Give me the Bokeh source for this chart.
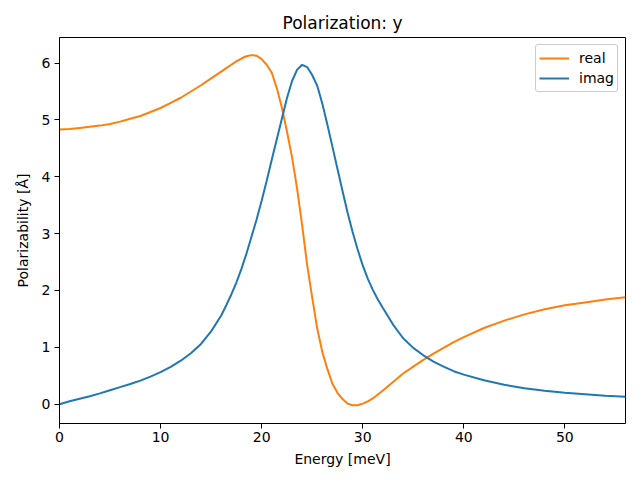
from bokeh.plotting import figure
from bokeh.models import Range1d, FixedTicker, Legend, LegendItem
from bokeh.embed import file_html
from bokeh.resources import INLINE

energy = [0, 1, 2, 3, 4, 5, 6, 7, 8, 9, 10, 11, 12, 13, 14, 15, 16, 16.5, 17,
          17.5, 18, 18.5, 19, 19.5, 20, 20.5, 21, 21.5, 22, 22.5, 23, 23.5, 24,
          24.5, 25, 25.5, 26, 26.5, 27, 27.5, 28, 28.5, 29, 29.5, 30, 30.5, 31,
          31.5, 32, 33, 34, 35, 36, 37, 38, 39, 40, 42, 44, 46, 48, 50, 52, 54, 56]
real = [4.83, 4.84, 4.86, 4.88, 4.90, 4.93, 4.97, 5.02, 5.07, 5.14, 5.21, 5.30,
        5.39, 5.50, 5.61, 5.73, 5.85, 5.91, 5.97, 6.03, 6.08, 6.12, 6.14, 6.13,
        6.07, 5.97, 5.83, 5.56, 5.22, 4.80, 4.35, 3.80, 3.16, 2.45, 1.88, 1.33,
        0.92, 0.62, 0.36, 0.20, 0.09, 0.01, -0.02, -0.02, 0.01, 0.05, 0.10, 0.17,
        0.24, 0.39, 0.54, 0.66, 0.78, 0.89, 0.99, 1.09, 1.18, 1.34, 1.47, 1.58,
        1.67, 1.74, 1.79, 1.84, 1.88]
imag = [0.00, 0.05, 0.095, 0.14, 0.19, 0.245, 0.30, 0.355, 0.415, 0.485, 0.565,
        0.655, 0.765, 0.895, 1.06, 1.28, 1.56, 1.74, 1.93, 2.14, 2.38, 2.65, 2.95,
        3.25, 3.58, 3.93, 4.30, 4.66, 5.02, 5.38, 5.68, 5.88, 5.97, 5.93, 5.79,
        5.60, 5.29, 4.92, 4.53, 4.14, 3.75, 3.37, 3.03, 2.72, 2.44, 2.21, 2.01,
        1.84, 1.69, 1.40, 1.16, 0.99, 0.86, 0.75, 0.66, 0.58, 0.52, 0.42, 0.34,
        0.28, 0.235, 0.20, 0.175, 0.15, 0.13]
x_ticks = [0, 10, 20, 30, 40, 50]
y_ticks = [0, 1, 2, 3, 4, 5, 6]

FONT = "DejaVu Sans"

p = figure(output_backend="svg", toolbar_location=None,
           frame_width=566, frame_height=386,
           min_border_left=59, min_border_right=15,
           min_border_top=37, min_border_bottom=57,
           x_range=Range1d(0, 56), y_range=Range1d(-0.34, 6.45),
           title="Polarization: y")

p.title.text_font = FONT
p.title.text_font_size = "17px"
p.title.text_font_style = "normal"
p.title.align = "center"
p.title.text_color = "black"

p.grid.visible = False
p.outline_line_color = "black"
p.outline_line_alpha = 1.0
p.outline_line_width = 1

for ax in (p.xaxis[0], p.yaxis[0]):
    ax.axis_line_color = "black"
    ax.major_tick_line_color = "black"
    ax.major_tick_out = 5
    ax.major_tick_in = 0
    ax.minor_tick_line_color = None
    ax.major_label_text_font = FONT
    ax.major_label_text_font_size = "14px"
    ax.major_label_text_color = "black"
    ax.axis_label_text_font = FONT
    ax.axis_label_text_font_size = "14px"
    ax.axis_label_text_font_style = "normal"
    ax.axis_label_text_color = "black"

p.xaxis.ticker = FixedTicker(ticks=x_ticks)
p.yaxis.ticker = FixedTicker(ticks=y_ticks)
p.xaxis.axis_label = "Energy [meV]"
p.yaxis.axis_label = "Polarizability [Å]"
p.xaxis.axis_label_standoff = 6
p.yaxis.axis_label_standoff = 8
p.xaxis.major_label_standoff = 3
p.yaxis.major_label_standoff = 4

r_real = p.line(energy, real, line_color="#ff7f0e", line_width=2)
r_imag = p.line(energy, imag, line_color="#1f77b4", line_width=2)

legend = Legend(items=[LegendItem(label="real", renderers=[r_real]),
                       LegendItem(label="imag", renderers=[r_imag])],
                location="top_right")
legend.label_text_font = FONT
legend.label_text_font_size = "14px"
legend.label_text_color = "black"
legend.border_line_color = "#cccccc"
legend.border_line_alpha = 1.0
legend.border_radius = 3
legend.background_fill_alpha = 0.8
legend.margin = 7
legend.padding = 3
legend.spacing = 0
legend.label_height = 20
legend.glyph_height = 20
legend.glyph_width = 30
legend.label_standoff = 10
p.add_layout(legend)

open("out.html", "w").write(file_html(p, INLINE))
